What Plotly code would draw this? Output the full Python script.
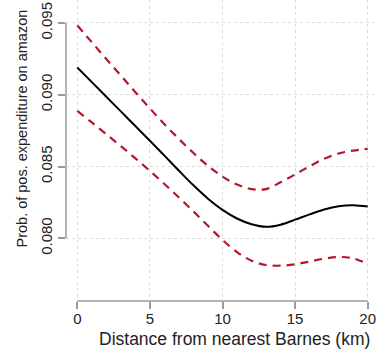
import plotly.graph_objects as go

# Data
distance_km = list(range(0, 21))
prob_fit = [0.09190, 0.09088, 0.08986, 0.08884, 0.08782, 0.08680, 0.08576, 0.08471, 0.08369,
            0.08276, 0.08198, 0.08138, 0.08098, 0.08080, 0.08095, 0.08130, 0.08167,
            0.08201, 0.08224, 0.08231, 0.08221]
prob_upper = [0.09483, 0.09366, 0.09249, 0.09133, 0.09018, 0.08905, 0.08795, 0.08692,
              0.08594, 0.08505, 0.08430, 0.08375, 0.08343, 0.08343, 0.08390, 0.08445,
              0.08502, 0.08554, 0.08591, 0.08611, 0.08623]
prob_lower = [0.08888, 0.08807, 0.08725, 0.08642, 0.08557, 0.08469, 0.08378, 0.08284,
              0.08187, 0.08087, 0.07989, 0.07904, 0.07844, 0.07814, 0.07809, 0.07819,
              0.07838, 0.07858, 0.07870, 0.07860, 0.07822]
x_ticks = [0, 5, 10, 15, 20]
y_ticks = [0.080, 0.085, 0.090, 0.095]
y_tick_labels = ["0.080", "0.085", "0.090", "0.095"]
x_title = "Distance from nearest Barnes (km)"
y_title = "Prob. of pos. expenditure on amazon"

FONT = "Liberation Sans, Arial, sans-serif"
TXT = "#222222"
AXC = "#9a9a9a"
RED = "#b2182b"

fig = go.Figure()
for ys, col, dash, w in [(prob_upper, RED, "8px,6px", 2.2),
                         (prob_lower, RED, "8px,6px", 2.2),
                         (prob_fit, "black", "solid", 2.0)]:
    fig.add_trace(go.Scatter(x=distance_km, y=ys, mode="lines",
                             line=dict(color=col, width=w, dash=dash, shape="spline", smoothing=1.0),
                             showlegend=False, hoverinfo="skip"))

fig.update_layout(
    width=378, height=354,
    margin=dict(l=66, r=0, t=0, b=53),
    plot_bgcolor="white", paper_bgcolor="white",
    font=dict(family=FONT, color=TXT, size=15),
)
fig.update_xaxes(range=[-0.778, 20.709], tickvals=x_ticks, ticks="outside", ticklen=7,
                 tickcolor=AXC, tickwidth=1.5, showline=False, zeroline=False,
                 showgrid=True, gridcolor="#dcdcdc", griddash="dot", gridwidth=1,
                 tickfont=dict(size=15, color=TXT), ticklabelstandoff=-3)
fig.update_yaxes(range=[0.075632, 0.096602], tickvals=y_ticks, ticktext=y_tick_labels,
                 tickangle=-90, ticks="outside", ticklen=7, tickcolor=AXC, tickwidth=1.5,
                 showline=False, zeroline=False, showgrid=True, gridcolor="#dcdcdc",
                 griddash="dot", gridwidth=1, tickfont=dict(size=15, color=TXT),
                 ticklabelstandoff=0)

# R-style axis lines spanning first to last tick
fig.add_shape(type="line", xref="x", yref="paper", x0=x_ticks[0], x1=x_ticks[-1], y0=0, y1=0,
              line=dict(color=AXC, width=1.5))
fig.add_shape(type="line", xref="paper", yref="y", x0=0, x1=0, y0=y_ticks[0], y1=y_ticks[-1],
              line=dict(color=AXC, width=1.5))

fig.add_annotation(text=x_title, xref="paper", yref="paper", x=(234 - 66) / 312,
                   y=(301 - 339) / 301, xanchor="center", yanchor="middle", showarrow=False,
                   font=dict(size=17.5, color=TXT, family=FONT))
fig.add_annotation(text=y_title, xref="paper", yref="paper", x=(21.5 - 66) / 312,
                   y=(301 - 129) / 301, xanchor="center", yanchor="middle", showarrow=False,
                   textangle=-90, font=dict(size=14.5, color=TXT, family=FONT))

fig.write_html("out.html", config={"displayModeBar": False},
               post_script="document.body.style.margin='0';")
